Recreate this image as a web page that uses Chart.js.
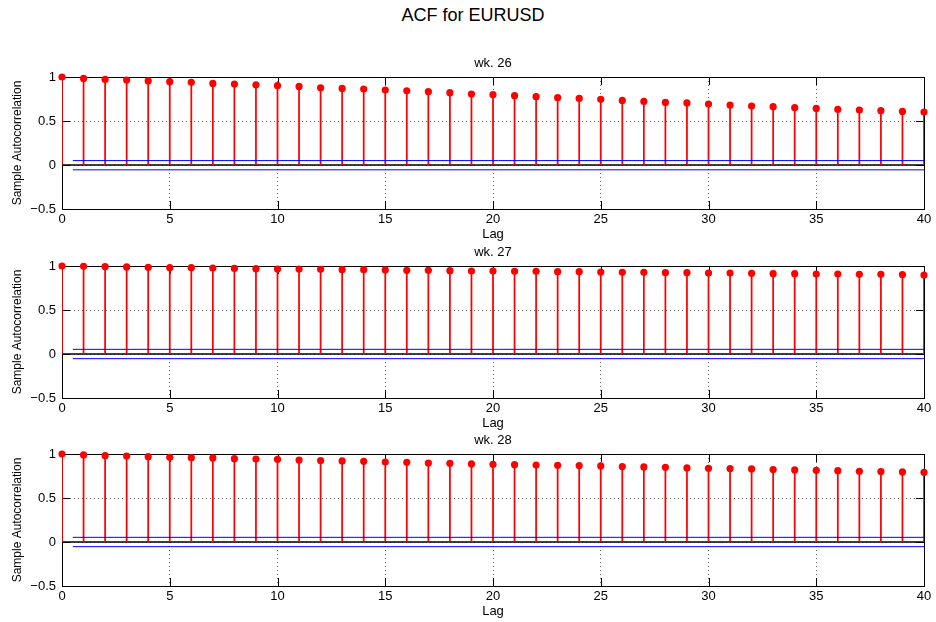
<!DOCTYPE html>
<html>
<head>
<meta charset="utf-8">
<script src="https://cdn.jsdelivr.net/npm/chart.js@4.4.1/dist/chart.umd.min.js"></script>
<style>
    body { margin: 0; background: #fff; width: 936px; height: 622px; position: relative; overflow: hidden; font-family: "Liberation Sans", Arial, sans-serif; }
    #title { position: absolute; left: 0; width: 946px; top: 5px; text-align: center; font-size: 18px; color: #000; }
    canvas { position: absolute; left: 0; }
</style>
</head>
<body>
<div id="title">ACF for EURUSD</div>
<canvas id="acf26" width="936" height="187" style="top:56px"></canvas>
<canvas id="acf27" width="936" height="187" style="top:245px"></canvas>
<canvas id="acf28" width="936" height="187" style="top:433px"></canvas>
<script>
// lags 0..40
const lags = [0, 1, 2, 3, 4, 5, 6, 7, 8, 9, 10, 11, 12, 13, 14, 15, 16, 17, 18, 19, 20,
              21, 22, 23, 24, 25, 26, 27, 28, 29, 30, 31, 32, 33, 34, 35, 36, 37, 38, 39, 40];

// sample autocorrelation
const acfWk26 = [1.000, 0.984, 0.973, 0.966, 0.955, 0.947, 0.939, 0.927, 0.920, 0.912, 0.901,
                 0.893, 0.878, 0.870, 0.863, 0.852, 0.844, 0.833, 0.822, 0.807, 0.799,
                 0.788, 0.776, 0.765, 0.757, 0.746, 0.734, 0.723, 0.711, 0.705, 0.693,
                 0.682, 0.670, 0.663, 0.651, 0.643, 0.632, 0.625, 0.617, 0.609, 0.602];
const acfWk27 = [1.000, 0.996, 0.992, 0.989, 0.985, 0.981, 0.981, 0.977, 0.973, 0.970, 0.966,
                 0.966, 0.962, 0.958, 0.958, 0.955, 0.951, 0.951, 0.947, 0.943, 0.943,
                 0.939, 0.939, 0.936, 0.936, 0.932, 0.928, 0.928, 0.924, 0.924, 0.920,
                 0.920, 0.917, 0.913, 0.913, 0.909, 0.909, 0.905, 0.905, 0.902, 0.898];
const acfWk28 = [1.000, 0.989, 0.981, 0.977, 0.970, 0.962, 0.958, 0.955, 0.947, 0.943, 0.940,
                 0.932, 0.925, 0.921, 0.917, 0.909, 0.906, 0.898, 0.894, 0.887, 0.883,
                 0.879, 0.875, 0.872, 0.868, 0.864, 0.857, 0.853, 0.849, 0.842, 0.838,
                 0.834, 0.830, 0.823, 0.819, 0.815, 0.811, 0.804, 0.800, 0.796, 0.792];

// confidence bounds (upper, lower) and where they start / end on the lag axis
const boundsWk26 = [0.050, -0.055];
const boundsWk27 = [0.053, -0.053];
const boundsWk28 = [0.053, -0.053];
const boundSpan = [0.5, 40];
const baseSpan = [0, 40];

const xTicks = [0, 5, 10, 15, 20, 25, 30, 35, 40];
const yTicks = [-0.5, 0, 0.5, 1];

const FONT = '"Liberation Sans", Arial, sans-serif';

// matlab style box with inward ticks, drawn under the stems
const boxPlugin = {
    id: 'matlabBox',
    beforeDatasetsDraw(chart) {
        const { ctx, chartArea: a, scales } = chart;
        const len = 8;
        ctx.save();
        ctx.strokeStyle = '#000';
        ctx.lineWidth = 1;
        ctx.strokeRect(Math.round(a.left) + 0.5, Math.round(a.top) + 0.5,
                       Math.round(a.right - a.left), Math.round(a.bottom - a.top));
        ctx.beginPath();
        xTicks.forEach(v => {
            const x = Math.round(scales.x.getPixelForValue(v)) + 0.5;
            ctx.moveTo(x, a.bottom); ctx.lineTo(x, a.bottom - len);
            ctx.moveTo(x, a.top); ctx.lineTo(x, a.top + len);
        });
        yTicks.forEach(v => {
            const y = Math.round(scales.y.getPixelForValue(v)) + 0.5;
            ctx.moveTo(a.left, y); ctx.lineTo(a.left + len, y);
            ctx.moveTo(a.right, y); ctx.lineTo(a.right - len, y);
        });
        ctx.stroke();
        ctx.restore();
    }
};

function renderAcf(id, title, acf, bounds) {
    const ctx = document.getElementById(id);
    const stems = lags.map((l, i) => ({ x: l, y: acf[i] }));

    return new Chart(ctx, {
        type: 'bar',
        data: {
            datasets: [
                {
                    type: 'line',
                    data: baseSpan.map(x => ({ x: x, y: 0 })),
                    borderColor: '#000',
                    borderWidth: 1.5,
                    pointRadius: 0,
                    order: 4
                },
                {
                    data: stems,
                    backgroundColor: '#ff0000',
                    barThickness: 1.1,
                    order: 3
                },
                {
                    type: 'line',
                    data: boundSpan.map(x => ({ x: x, y: bounds[0] })),
                    borderColor: '#0000ff',
                    borderWidth: 1,
                    pointRadius: 0,
                    order: 2
                },
                {
                    type: 'line',
                    data: boundSpan.map(x => ({ x: x, y: bounds[1] })),
                    borderColor: '#0000ff',
                    borderWidth: 1,
                    pointRadius: 0,
                    order: 2
                },
                {
                    type: 'line',
                    data: stems,
                    showLine: false,
                    pointRadius: 3.6,
                    pointBackgroundColor: '#ff0000',
                    pointBorderWidth: 0,
                    clip: false,
                    order: 1
                }
            ]
        },
        options: {
            responsive: false,
            animation: false,
            devicePixelRatio: 1,
            layout: { padding: { top: 0, right: 12, bottom: 0, left: 0 } },
            plugins: {
                legend: { display: false },
                tooltip: { enabled: false },
                title: {
                    display: true,
                    text: title,
                    fullSize: false,
                    color: '#000',
                    font: { family: FONT, size: 13, weight: 'normal' },
                    padding: { top: 0, bottom: 5.4 }
                }
            },
            scales: {
                x: {
                    type: 'linear',
                    min: 0,
                    max: 40,
                    offset: false,
                    afterFit: s => { s.height = 34; },
                    afterBuildTicks: s => { s.ticks = xTicks.map(v => ({ value: v })); },
                    ticks: {
                        color: '#000',
                        padding: 3,
                        maxRotation: 0,
                        font: { family: FONT, size: 13 }
                    },
                    grid: {
                        offset: false,
                        drawTicks: false,
                        color: 'rgba(0,0,0,0.6)',
                        lineWidth: 1
                    },
                    border: { display: false, dash: [1, 3] },
                    title: {
                        display: true,
                        text: 'Lag',
                        color: '#000',
                        font: { family: FONT, size: 13 },
                        padding: { top: 0, bottom: 0.7 }
                    }
                },
                y: {
                    min: -0.5,
                    max: 1,
                    afterFit: s => { s.width = 62; },
                    afterBuildTicks: s => { s.ticks = yTicks.map(v => ({ value: v })); },
                    ticks: {
                        color: '#000',
                        padding: 6,
                        font: { family: FONT, size: 13 },
                        callback: v => (v < 0 ? '\u2212' + Math.abs(v) : String(v))
                    },
                    grid: {
                        drawTicks: false,
                        color: 'rgba(0,0,0,0.6)',
                        lineWidth: 1
                    },
                    border: { display: false, dash: [1, 3] },
                    title: {
                        display: true,
                        text: 'Sample Autocorrelation',
                        color: '#000',
                        font: { family: FONT, size: 12 },
                        padding: { top: 10, bottom: 0 }
                    }
                }
            }
        },
        plugins: [boxPlugin]
    });
}

renderAcf('acf26', 'wk. 26', acfWk26, boundsWk26);
renderAcf('acf27', 'wk. 27', acfWk27, boundsWk27);
renderAcf('acf28', 'wk. 28', acfWk28, boundsWk28);
</script>
</body>
</html>
